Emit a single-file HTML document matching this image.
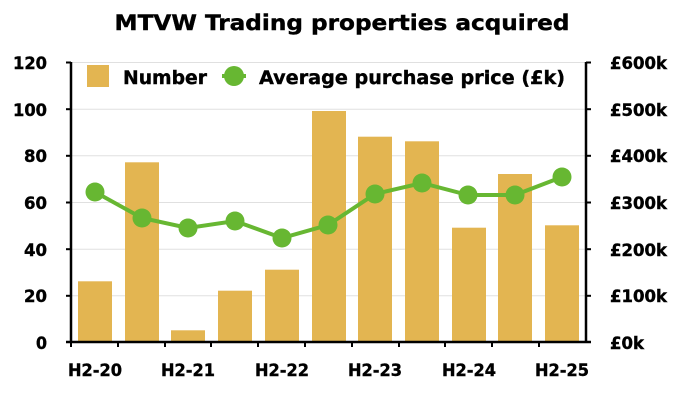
<!DOCTYPE html>
<html><head><meta charset="utf-8"><style>
body{margin:0;background:#fff}
svg text{font-family:"DejaVu Sans","Liberation Sans",Arial,sans-serif;font-weight:bold;fill:#000;stroke:#000;stroke-width:0.4}
</style></head><body>
<svg width="700" height="400" viewBox="0 0 700 400">
<text x="342" y="30" font-size="21" text-anchor="middle" textLength="455" lengthAdjust="spacingAndGlyphs">MTVW Trading properties acquired</text>
<g stroke="#e0e0e0" stroke-width="1">
<line x1="71" x2="586" y1="62.5" y2="62.5"/>
<line x1="71" x2="586" y1="109.2" y2="109.2"/>
<line x1="71" x2="586" y1="155.8" y2="155.8"/>
<line x1="71" x2="586" y1="202.5" y2="202.5"/>
<line x1="71" x2="586" y1="249.2" y2="249.2"/>
<line x1="71" x2="586" y1="295.8" y2="295.8"/>
</g>
<g fill="#e3b551">
<rect x="78" y="281.3" width="34" height="60.7"/>
<rect x="125" y="162.3" width="34" height="179.7"/>
<rect x="171" y="330.3" width="34" height="11.7"/>
<rect x="218" y="290.7" width="34" height="51.3"/>
<rect x="265" y="269.7" width="34" height="72.3"/>
<rect x="312" y="111" width="34" height="231"/>
<rect x="358" y="136.7" width="34" height="205.3"/>
<rect x="405" y="141.3" width="34" height="200.7"/>
<rect x="452" y="227.7" width="34" height="114.3"/>
<rect x="498" y="174" width="34" height="168"/>
<rect x="545" y="225.3" width="34" height="116.7"/>
</g>
<g stroke="#000" stroke-width="2.5">
<line x1="71" y1="62" x2="71" y2="343"/>
<line x1="586" y1="62" x2="586" y2="343"/>
<line x1="66" y1="342" x2="591" y2="342"/>
<g stroke-width="2">
<line x1="66" x2="71" y1="62.5" y2="62.5"/><line x1="66" x2="71" y1="109.2" y2="109.2"/><line x1="66" x2="71" y1="155.8" y2="155.8"/><line x1="66" x2="71" y1="202.5" y2="202.5"/><line x1="66" x2="71" y1="249.2" y2="249.2"/><line x1="66" x2="71" y1="295.8" y2="295.8"/>
<line x1="586" x2="591" y1="62.5" y2="62.5"/><line x1="586" x2="591" y1="109.2" y2="109.2"/><line x1="586" x2="591" y1="155.8" y2="155.8"/><line x1="586" x2="591" y1="202.5" y2="202.5"/><line x1="586" x2="591" y1="249.2" y2="249.2"/><line x1="586" x2="591" y1="295.8" y2="295.8"/>
<line x1="118" x2="118" y1="342" y2="347"/><line x1="165" x2="165" y1="342" y2="347"/><line x1="211" x2="211" y1="342" y2="347"/><line x1="258" x2="258" y1="342" y2="347"/><line x1="305" x2="305" y1="342" y2="347"/><line x1="352" x2="352" y1="342" y2="347"/><line x1="399" x2="399" y1="342" y2="347"/><line x1="445" x2="445" y1="342" y2="347"/><line x1="492" x2="492" y1="342" y2="347"/><line x1="539" x2="539" y1="342" y2="347"/><line x1="71" x2="71" y1="342" y2="347"/>
</g></g>
<g font-size="17" text-anchor="end">
<text x="47" y="69" textLength="34" lengthAdjust="spacingAndGlyphs">120</text><text x="47" y="116" textLength="34" lengthAdjust="spacingAndGlyphs">100</text><text x="47" y="162" textLength="23" lengthAdjust="spacingAndGlyphs">80</text><text x="47" y="209" textLength="23" lengthAdjust="spacingAndGlyphs">60</text><text x="47" y="256" textLength="23" lengthAdjust="spacingAndGlyphs">40</text><text x="47" y="302" textLength="23" lengthAdjust="spacingAndGlyphs">20</text><text x="47" y="349" textLength="11" lengthAdjust="spacingAndGlyphs">0</text>
</g>
<g font-size="17">
<text x="610" y="69" textLength="57" lengthAdjust="spacingAndGlyphs">£600k</text><text x="610" y="116" textLength="57" lengthAdjust="spacingAndGlyphs">£500k</text><text x="610" y="162" textLength="57" lengthAdjust="spacingAndGlyphs">£400k</text><text x="610" y="209" textLength="57" lengthAdjust="spacingAndGlyphs">£300k</text><text x="610" y="256" textLength="57" lengthAdjust="spacingAndGlyphs">£200k</text><text x="610" y="302" textLength="57" lengthAdjust="spacingAndGlyphs">£100k</text><text x="610" y="349" textLength="34" lengthAdjust="spacingAndGlyphs">£0k</text>
</g>
<g font-size="17" text-anchor="middle">
<text x="95" y="376" textLength="54" lengthAdjust="spacingAndGlyphs">H2-20</text><text x="188" y="376" textLength="54" lengthAdjust="spacingAndGlyphs">H2-21</text><text x="282" y="376" textLength="54" lengthAdjust="spacingAndGlyphs">H2-22</text><text x="375" y="376" textLength="54" lengthAdjust="spacingAndGlyphs">H2-23</text><text x="469" y="376" textLength="54" lengthAdjust="spacingAndGlyphs">H2-24</text><text x="562" y="376" textLength="54" lengthAdjust="spacingAndGlyphs">H2-25</text>
</g>
<polyline fill="none" stroke="#67b732" stroke-width="4" points="95,192 142,218 188,228 235,221 282,238 328,225 375,194 422,183 468,195 515,195 562,177"/>
<g fill="#67b732">
<circle cx="95" cy="192" r="9.5"/><circle cx="142" cy="218" r="9.5"/><circle cx="188" cy="228" r="9.5"/><circle cx="235" cy="221" r="9.5"/><circle cx="282" cy="238" r="9.5"/><circle cx="328" cy="225" r="9.5"/><circle cx="375" cy="194" r="9.5"/><circle cx="422" cy="183" r="9.5"/><circle cx="468" cy="195" r="9.5"/><circle cx="515" cy="195" r="9.5"/><circle cx="562" cy="177" r="9.5"/>
</g>
<rect x="87" y="65" width="22" height="22" fill="#e3b551"/>
<text x="123" y="84" font-size="19" textLength="84" lengthAdjust="spacingAndGlyphs">Number</text>
<line x1="222" y1="76" x2="246" y2="76" stroke="#67b732" stroke-width="4"/>
<circle cx="234" cy="76" r="10" fill="#67b732"/>
<text x="259" y="84" font-size="19" textLength="306" lengthAdjust="spacingAndGlyphs">Average purchase price (£k)</text>
</svg>
</body></html>
